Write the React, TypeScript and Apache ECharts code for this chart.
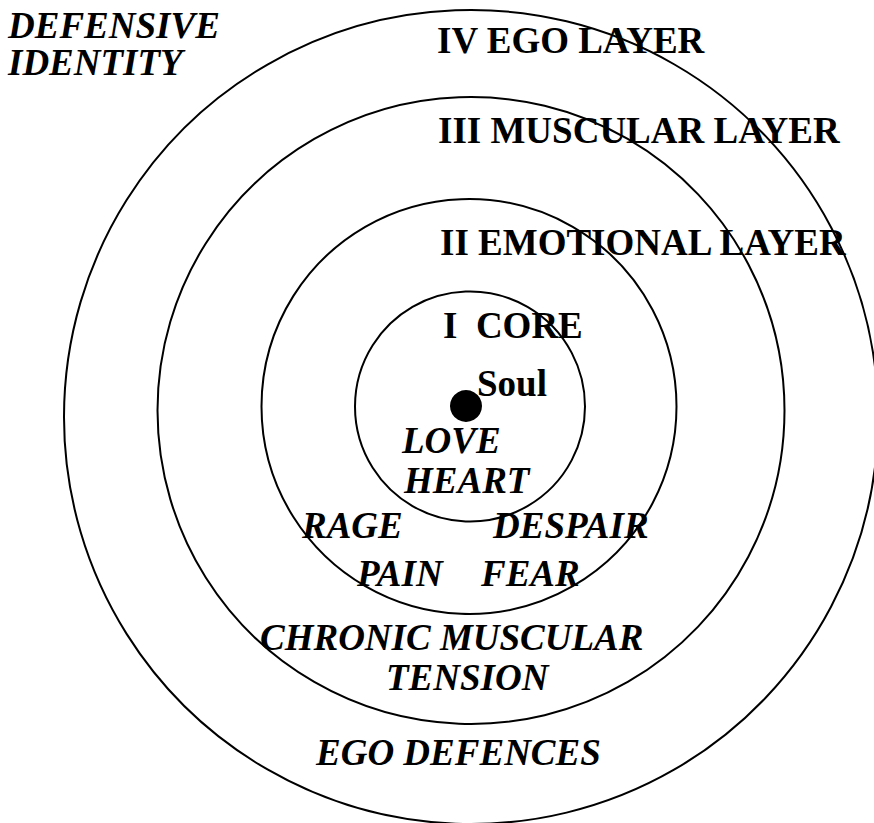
import React, { useEffect, useRef } from "react";
import * as echarts from "echarts";

// Concentric layers: [centerX, centerY, radius] in diagram units (pixels of the 874x823 canvas)
const layerNames = ["I CORE", "II EMOTIONAL LAYER", "III MUSCULAR LAYER", "IV EGO LAYER"];
const layerCircles: number[][] = [
  [470, 406.5, 115],
  [469, 406.5, 207.5],
  [471, 410.5, 313.5],
  [471, 417, 407],
];

// Soul dot at the centre
const soulPoint: number[] = [466, 406];

// Labels: text, left x, centre y, italic(1) / upright(0)
const labelTexts = [
  "DEFENSIVE", "IDENTITY",
  "IV EGO LAYER", "III MUSCULAR LAYER", "II EMOTIONAL LAYER", "I\u00a0\u00a0CORE", "Soul",
  "LOVE", "HEART", "RAGE", "DESPAIR", "PAIN", "FEAR",
  "CHRONIC MUSCULAR", "TENSION", "EGO DEFENCES",
];
const labelX = [8, 8, 437, 438, 440, 443, 477, 402, 404, 302, 493, 357, 481, 260, 386, 316];
const labelY = [25, 62, 40, 130, 242, 325, 383, 440, 480, 525, 525, 573, 573, 637, 677, 752];
const labelItalic = [1, 1, 0, 0, 0, 0, 0, 1, 1, 1, 1, 1, 1, 1, 1, 1];

export default function App() {
  const ref = useRef<HTMLDivElement>(null);
  useEffect(() => {
    if (!ref.current) return;
    const chart = echarts.init(ref.current, null, { renderer: "svg" });
    const labelData = labelTexts.map((t, i) => ({
      name: t,
      value: [labelX[i], labelY[i], labelItalic[i]],
    }));
    chart.setOption({
      animation: false,
      backgroundColor: "#ffffff",
      grid: { left: 0, right: 0, top: 0, bottom: 0 },
      xAxis: { type: "value", min: 0, max: 874, show: false },
      yAxis: { type: "value", min: 0, max: 823, inverse: true, show: false },
      series: [
        {
          type: "custom",
          name: "layers",
          coordinateSystem: "cartesian2d",
          data: layerCircles.map((c, i) => ({ name: layerNames[i], value: c })),
          renderItem: (params: any, api: any) => {
            const p = api.coord([api.value(0), api.value(1)]);
            const r = api.size([api.value(2), 0])[0];
            return {
              type: "circle",
              shape: { cx: p[0], cy: p[1], r },
              style: { fill: "none", stroke: "#000", lineWidth: 2 },
            };
          },
          silent: true,
        },
        {
          type: "scatter",
          name: "Soul",
          data: [soulPoint],
          symbol: "circle",
          symbolSize: 32,
          itemStyle: { color: "#000", opacity: 1 },
          silent: true,
          z: 3,
        },
        {
          type: "custom",
          name: "labels",
          coordinateSystem: "cartesian2d",
          data: labelData,
          renderItem: (params: any, api: any) => {
            const i = params.dataIndex;
            const p = api.coord([api.value(0), api.value(1)]);
            const italic = api.value(2) === 1;
            return {
              type: "text",
              x: p[0],
              y: p[1],
              style: {
                text: labelTexts[i],
                fill: "#000",
                font: `${italic ? "italic " : ""}bold 37px "Liberation Serif", "Times New Roman", serif`,
                textAlign: "left",
                textVerticalAlign: "middle",
              },
            };
          },
          silent: true,
          z: 4,
        },
      ],
    });
    return () => chart.dispose();
  }, []);
  return (
    <div
      ref={ref}
      style={{ position: "fixed", left: 0, top: 0, width: 874, height: 823 }}
    />
  );
}
